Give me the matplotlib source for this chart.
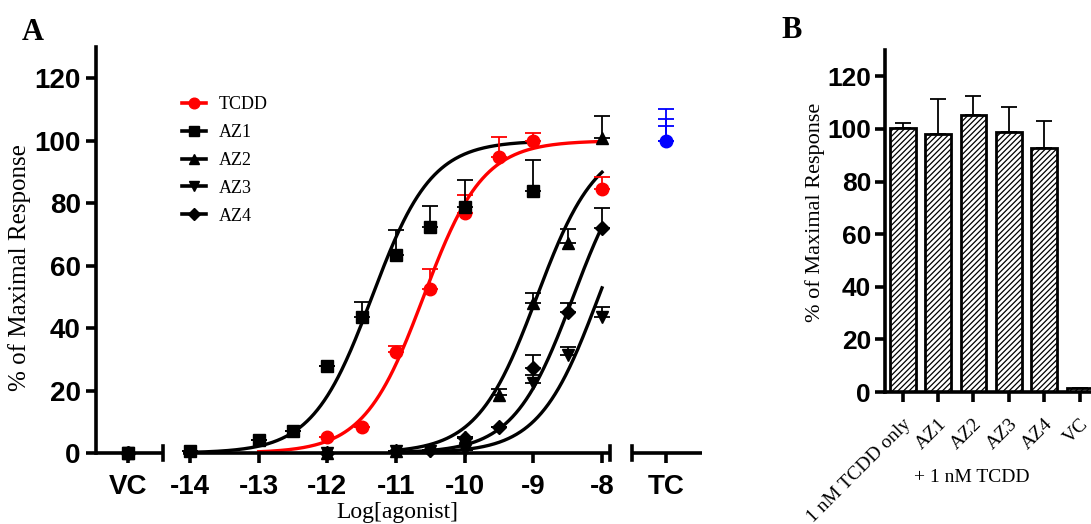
import numpy as np
import matplotlib
matplotlib.use("Agg")
import matplotlib.pyplot as plt
from matplotlib.lines import Line2D

# ---------------- data: panel A ----------------
tcdd_x = [-12, -11.5, -11, -10.5, -10, -9.5, -9, -8]
tcdd_y = [5, 8.3, 32.3, 52.5, 76.8, 94.7, 100, 84.5]
tcdd_e = [0, 0, 2, 6.5, 5.8, 6.5, 2.4, 3.8]

az1_x = [-14, -13, -12.5, -12, -11.5, -11, -10.5, -10, -9]
az1_y = [0.5, 4.2, 7.1, 27.8, 43.6, 63.4, 72.4, 78.8, 84]
az1_e = [0, 0, 0, 0, 4.8, 8, 6.6, 8.6, 9.8]

az2_x = [-12, -11, -10, -9.5, -9, -8.5, -8]
az2_y = [0, 0.5, 5, 18.6, 48, 67.2, 100.8]
az2_e = [0, 0, 0, 1.9, 3.2, 4.6, 7.2]

az3_x = [-12, -11, -10.5, -10, -9, -8.5, -8]
az3_y = [0, 0.5, 0.5, 1, 22.4, 31.4, 43.6]
az3_e = [0, 0, 0, 0, 2.6, 2.6, 3.1]

az4_x = [-12, -11, -10.5, -10, -9.5, -9, -8.5, -8]
az4_y = [0, 0.5, 1, 4.8, 8.4, 27.2, 45.2, 72]
az4_e = [0, 0, 0, 0, 0, 4.2, 2.8, 6.6]

# fitted sigmoid parameters (log EC50) and fit ranges
fit_logec50 = {"TCDD": -10.6, "AZ1": -11.35, "AZ2": -8.95, "AZ3": -8.05, "AZ4": -8.42}
fit_range = {"TCDD": (-13, -8), "AZ1": (-14, -9), "AZ2": (-11, -8), "AZ3": (-11, -8), "AZ4": (-11, -8)}
fit_top = 100
fit_hill = 1.0

vc_value = 0
tc_value = 100
tc_errs = [10, 7, 4.8]

xtick_labels = ["VC", "-14", "-13", "-12", "-11", "-10", "-9", "-8", "TC"]
xtick_log = [-14, -13, -12, -11, -10, -9, -8]

# ---------------- data: panel B ----------------
b_labels = ["1 nM TCDD only", "AZ1", "AZ2", "AZ3", "AZ4", "VC"]
b_values = [100.4, 98.1, 105.3, 98.9, 92.8, 1.5]
b_errs = [1.9, 13.3, 7.2, 9.5, 10.2, 0]

# ---------------- style ----------------
SANS = "Liberation Sans"
SERIF = "Liberation Serif"
plt.rcParams["hatch.linewidth"] = 0.9

fig = plt.figure(figsize=(10.91, 5.24), dpi=100)

# positions on broken axis
VC_POS = -14.903
TC_POS = -7.068
XL, XR = -15.369, -6.544

axA = fig.add_axes([96 / 1091, 0.1355, 606 / 1091, 0.7748])
axA.set_xlim(XL, XR)
axA.set_ylim(0, 130)
for s in ["top", "right", "bottom"]:
    axA.spines[s].set_visible(False)
axA.spines["left"].set_linewidth(2.6)
axA.set_yticks([0, 20, 40, 60, 80, 100, 120])
axA.set_xticks([VC_POS] + xtick_log + [TC_POS])
axA.set_xticklabels(xtick_labels)
axA.tick_params(axis="both", direction="out", length=7, width=2.6, labelsize=20, pad=4)
axA.tick_params(axis="x", pad=8)
for lab in axA.get_xticklabels() + axA.get_yticklabels():
    lab.set_fontfamily(SANS)
    lab.set_fontweight("bold")

# broken x axis segments
tr = axA.get_xaxis_transform()
segs = [(XL, -14.39), (-14.1, -7.88), (-7.56, XR)]
for a, b in segs:
    axA.plot([a, b], [0, 0], color="black", lw=2.6, transform=tr, clip_on=False, solid_capstyle="butt", zorder=5)
for c in [-14.39, -7.88, -7.56]:
    axA.plot([c, c], [-0.018, 0.018], color="black", lw=2.6, transform=tr, clip_on=False, zorder=5)

def hill(x, logec50):
    return fit_top / (1 + 10 ** ((logec50 - x) * fit_hill))

series = [
    ("TCDD", tcdd_x, tcdd_y, tcdd_e, "o", "red", 9),
    ("AZ1", az1_x, az1_y, az1_e, "s", "black", 8.5),
    ("AZ2", az2_x, az2_y, az2_e, "^", "black", 9),
    ("AZ3", az3_x, az3_y, az3_e, "v", "black", 9),
    ("AZ4", az4_x, az4_y, az4_e, "D", "black", 7.5),
]

handles = []
for name, xs, ys, es, m, col, ms in series:
    lo, hi = fit_range[name]
    xx = np.linspace(lo, hi, 300)
    axA.plot(xx, hill(xx, fit_logec50[name]), color=col, lw=2.4, zorder=3, clip_on=False)
    errs = np.array(es)
    axA.errorbar(xs, ys, yerr=[np.zeros_like(errs), errs], fmt="none", ecolor=col,
                 elinewidth=1.3, capsize=5.5, capthick=1.3, zorder=4, clip_on=False)
    axA.plot(xs, ys, ls="none", marker=m, color=col, ms=ms, zorder=6, clip_on=False)
    axA.plot([VC_POS], [vc_value], ls="none", marker=m, color="black", ms=ms, zorder=6, clip_on=False)
    handles.append(Line2D([0], [0], color=col, lw=2.6, marker=m, ms=ms * 0.85, label=name))

# TC positive control
for e in tc_errs:
    axA.errorbar([TC_POS], [tc_value], yerr=[[0], [e]], fmt="none", ecolor="blue",
                 elinewidth=1.3, capsize=6, capthick=1.3, zorder=4)
axA.plot([TC_POS], [tc_value], ls="none", marker="o", color="blue", ms=9, zorder=6)

leg = fig.legend(handles=handles, loc="upper left", bbox_to_anchor=(166 / 1091, 1 - 80 / 524),
                 frameon=False, prop={"family": SERIF, "size": 13}, handlelength=1.3,
                 handletextpad=0.7, labelspacing=0.6)

fig.text(0.018, 0.49, "% of Maximal Response", rotation=90, ha="center", va="center",
         fontfamily=SERIF, fontsize=18)
fig.text(397 / 1091, 0.022, "Log[agonist]", ha="center", va="center", fontfamily=SERIF, fontsize=17)
fig.text(22 / 1091, 1 - 32 / 524, "A", ha="left", va="center", fontfamily=SERIF,
         fontweight="bold", fontsize=22)

# ---------------- panel B ----------------
axB = fig.add_axes([885 / 1091, 0.2519, 0.1945, 0.6527])
xb = np.arange(len(b_labels))
axB.bar(xb, b_values, width=0.73, color="white", edgecolor="black", linewidth=2.0,
        hatch="//////", zorder=2)
berr = np.array(b_errs)
axB.errorbar(xb, b_values, yerr=[np.zeros_like(berr), berr], fmt="none", ecolor="black",
             elinewidth=1.3, capsize=5.5, capthick=1.3, zorder=3)
axB.set_xlim(-0.5, 5.5)
axB.set_ylim(0, 130)
for s in ["top", "right"]:
    axB.spines[s].set_visible(False)
axB.spines["left"].set_linewidth(2.6)
axB.spines["bottom"].set_linewidth(2.6)
axB.set_yticks([0, 20, 40, 60, 80, 100, 120])
axB.tick_params(axis="both", direction="out", length=7, width=2.6, labelsize=19, pad=3)
for lab in axB.get_yticklabels():
    lab.set_fontfamily(SANS)
    lab.set_fontweight("bold")
axB.set_xticks(xb)
axB.set_xticklabels(b_labels, rotation=45, ha="right", va="top", rotation_mode="anchor",
                    fontfamily=SERIF, fontsize=14)
axB.tick_params(axis="x", pad=10)

fig.text(815 / 1091, 1 - 212 / 524, "% of Maximal Response", rotation=90, ha="center",
         va="center", fontfamily=SERIF, fontsize=16)
fig.text(972 / 1091, 1 - 477 / 524, "+ 1 nM TCDD", ha="center", va="center",
         fontfamily=SERIF, fontsize=14)
fig.text(781 / 1091, 1 - 30 / 524, "B", ha="left", va="center", fontfamily=SERIF,
         fontweight="bold", fontsize=22)

fig.savefig("out.png", dpi=100)
